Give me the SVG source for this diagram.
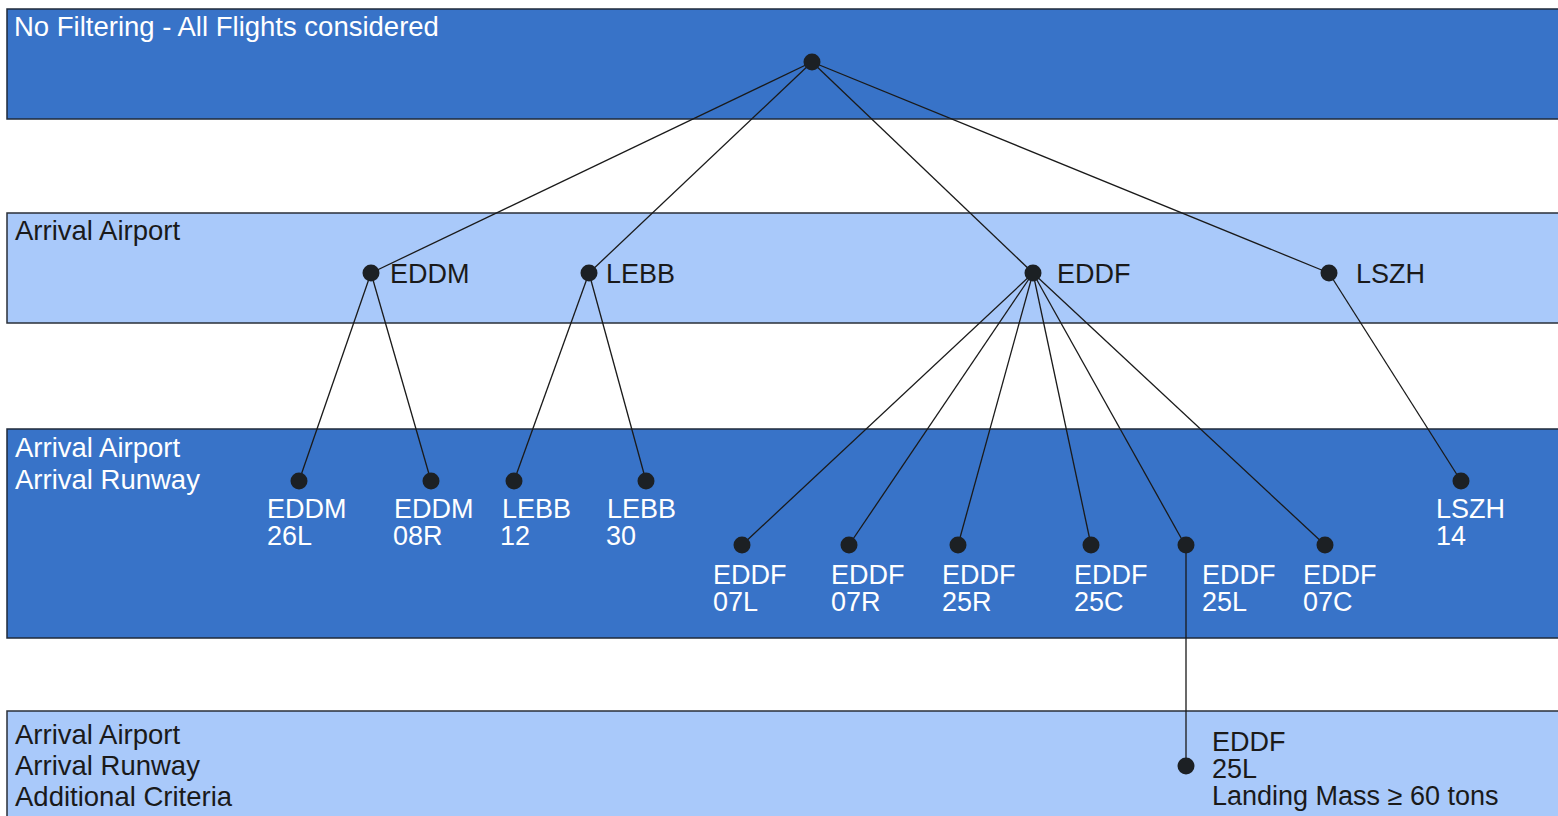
<svg xmlns="http://www.w3.org/2000/svg" width="1558" height="816" viewBox="0 0 1558 816">
  <style>
    .band-dark { fill: #3873c8; stroke: #1f2a3a; stroke-width: 1.5; }
    .band-light { fill: #a9c9fa; stroke: #2a2f38; stroke-width: 1.5; }
    .hdr { font-family: "Liberation Sans", Arial, sans-serif; font-size: 27.5px; }
    .lbl { font-family: "Liberation Sans", Arial, sans-serif; font-size: 27px; }
    .w { fill: #ffffff; }
    .k { fill: #1a1a1a; }
    .dot { fill: #1c2024; }
    .edge { stroke: #1a1a1a; stroke-width: 1.3; fill: none; }
  </style>

  <rect width="1558" height="816" fill="#ffffff"/>

  <!-- filter levels -->
  <g id="level-all">
    <rect class="band-dark" x="7" y="9" width="1560" height="110"/>
    <text class="hdr w" x="14" y="36">No Filtering - All Flights considered</text>
  </g>
  <g id="level-airport">
    <rect class="band-light" x="7" y="213" width="1560" height="110"/>
    <text class="hdr k" x="15" y="240">Arrival Airport</text>
  </g>
  <g id="level-runway">
    <rect class="band-dark" x="7" y="429" width="1560" height="209"/>
    <text class="hdr w" x="15" y="457">Arrival Airport</text>
    <text class="hdr w" x="15" y="489">Arrival Runway</text>
  </g>
  <g id="level-criteria">
    <rect class="band-light" x="7" y="711" width="1560" height="120"/>
    <text class="hdr k" x="15" y="744">Arrival Airport</text>
    <text class="hdr k" x="15" y="775">Arrival Runway</text>
    <text class="hdr k" x="15" y="806">Additional Criteria</text>
  </g>

  <!-- tree edges -->
  <g id="connectors">
    <line class="edge" x1="812" y1="62" x2="371" y2="273"/>
    <line class="edge" x1="812" y1="62" x2="589" y2="273"/>
    <line class="edge" x1="812" y1="62" x2="1033" y2="273"/>
    <line class="edge" x1="812" y1="62" x2="1329" y2="273"/>
    <line class="edge" x1="371" y1="273" x2="299" y2="481"/>
    <line class="edge" x1="371" y1="273" x2="431" y2="481"/>
    <line class="edge" x1="589" y1="273" x2="514" y2="481"/>
    <line class="edge" x1="589" y1="273" x2="646" y2="481"/>
    <line class="edge" x1="1033" y1="273" x2="742" y2="545"/>
    <line class="edge" x1="1033" y1="273" x2="849" y2="545"/>
    <line class="edge" x1="1033" y1="273" x2="958" y2="545"/>
    <line class="edge" x1="1033" y1="273" x2="1091" y2="545"/>
    <line class="edge" x1="1033" y1="273" x2="1185" y2="545"/>
    <line class="edge" x1="1033" y1="273" x2="1325" y2="545"/>
    <line class="edge" x1="1329" y1="273" x2="1461" y2="481"/>
    <line class="edge" x1="1186" y1="545" x2="1186" y2="766"/>
  </g>

  <!-- root -->
  <g id="node-root">
    <circle class="dot" cx="812" cy="62" r="8.5"/>
  </g>

  <!-- airports -->
  <g id="node-eddm">
    <circle class="dot" cx="371" cy="273" r="8.5"/>
    <text class="lbl k" x="390" y="283">EDDM</text>
  </g>
  <g id="node-lebb">
    <circle class="dot" cx="589" cy="273" r="8.5"/>
    <text class="lbl k" x="606" y="283">LEBB</text>
  </g>
  <g id="node-eddf">
    <circle class="dot" cx="1033" cy="273" r="8.5"/>
    <text class="lbl k" x="1057" y="283">EDDF</text>
  </g>
  <g id="node-lszh">
    <circle class="dot" cx="1329" cy="273" r="8.5"/>
    <text class="lbl k" x="1356" y="283">LSZH</text>
  </g>

  <!-- runways -->
  <g id="node-eddm-26l">
    <circle class="dot" cx="299" cy="481" r="8.5"/>
    <text class="lbl w" x="267" y="518">EDDM</text>
    <text class="lbl w" x="267" y="545">26L</text>
  </g>
  <g id="node-eddm-08r">
    <circle class="dot" cx="431" cy="481" r="8.5"/>
    <text class="lbl w" x="394" y="518">EDDM</text>
    <text class="lbl w" x="393" y="545">08R</text>
  </g>
  <g id="node-lebb-12">
    <circle class="dot" cx="514" cy="481" r="8.5"/>
    <text class="lbl w" x="502" y="518">LEBB</text>
    <text class="lbl w" x="500" y="545">12</text>
  </g>
  <g id="node-lebb-30">
    <circle class="dot" cx="646" cy="481" r="8.5"/>
    <text class="lbl w" x="607" y="518">LEBB</text>
    <text class="lbl w" x="606" y="545">30</text>
  </g>
  <g id="node-eddf-07l">
    <circle class="dot" cx="742" cy="545" r="8.5"/>
    <text class="lbl w" x="713" y="584">EDDF</text>
    <text class="lbl w" x="713" y="611">07L</text>
  </g>
  <g id="node-eddf-07r">
    <circle class="dot" cx="849" cy="545" r="8.5"/>
    <text class="lbl w" x="831" y="584">EDDF</text>
    <text class="lbl w" x="831" y="611">07R</text>
  </g>
  <g id="node-eddf-25r">
    <circle class="dot" cx="958" cy="545" r="8.5"/>
    <text class="lbl w" x="942" y="584">EDDF</text>
    <text class="lbl w" x="942" y="611">25R</text>
  </g>
  <g id="node-eddf-25c">
    <circle class="dot" cx="1091" cy="545" r="8.5"/>
    <text class="lbl w" x="1074" y="584">EDDF</text>
    <text class="lbl w" x="1074" y="611">25C</text>
  </g>
  <g id="node-eddf-25l">
    <circle class="dot" cx="1186" cy="545" r="8.5"/>
    <text class="lbl w" x="1202" y="584">EDDF</text>
    <text class="lbl w" x="1202" y="611">25L</text>
  </g>
  <g id="node-eddf-07c">
    <circle class="dot" cx="1325" cy="545" r="8.5"/>
    <text class="lbl w" x="1303" y="584">EDDF</text>
    <text class="lbl w" x="1303" y="611">07C</text>
  </g>
  <g id="node-lszh-14">
    <circle class="dot" cx="1461" cy="481" r="8.5"/>
    <text class="lbl w" x="1436" y="518">LSZH</text>
    <text class="lbl w" x="1436" y="545">14</text>
  </g>

  <!-- additional criteria -->
  <g id="node-eddf-25l-mass">
    <circle class="dot" cx="1186" cy="766" r="8.5"/>
    <text class="lbl k" x="1212" y="751">EDDF</text>
    <text class="lbl k" x="1212" y="778">25L</text>
    <text class="lbl k" x="1212" y="805">Landing Mass ≥ 60 tons</text>
  </g>
</svg>
